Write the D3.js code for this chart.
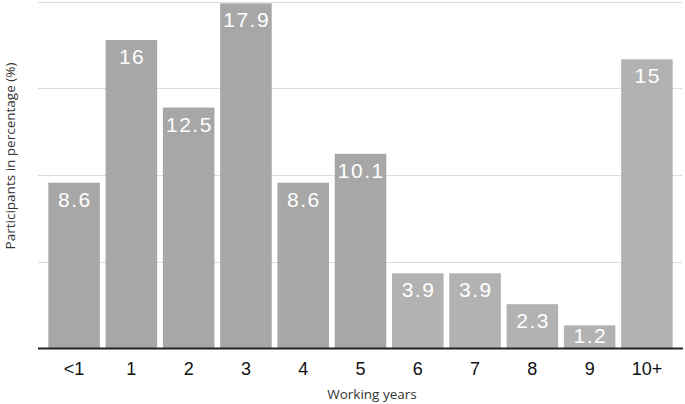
<!DOCTYPE html>
<html>
<head>
<meta charset="utf-8">
<script src="https://cdn.jsdelivr.net/npm/d3@7"></script>
<style>
  html, body { margin: 0; padding: 0; background: #fff; }
  svg { display: block; }
</style>
</head>
<body>
<svg id="chart" width="685" height="404"></svg>
<script>
const categories = ["<1", "1", "2", "3", "4", "5", "6", "7", "8", "9", "10+"];
const values = [8.6, 16, 12.5, 17.9, 8.6, 10.1, 3.9, 3.9, 2.3, 1.2, 15];
const gridValues = [4.5, 9, 13.5, 18];
const xTitle = "Working years";
const yTitle = "Participants in percentage (%)";

(function () {
const svg = d3.select("#chart");
const mLeft = 38, mRight = 683, mTop = 1.5, mBottom = 348.5;

const x = d3.scaleBand().domain(categories).range([mLeft, mRight])
  .paddingInner(0.1).paddingOuter(0.18);
const y = d3.scaleLinear().domain([0, 18]).range([mBottom, mTop]);

const darkFill = "#a7a7a7", lightFill = "#b2b2b2";
const fillFor = i => (i < 6 ? darkFill : lightFill);

// gridlines
svg.append("g").selectAll("line").data(gridValues).join("line")
  .attr("x1", mLeft).attr("x2", mRight - 1)
  .attr("y1", d => Math.round(y(d)) + 0.5).attr("y2", d => Math.round(y(d)) + 0.5)
  .attr("stroke", "#dcdcdc").attr("stroke-width", 1);

// bars
const data = categories.map((c, i) => ({ c, v: values[i], i }));
svg.append("g").selectAll("rect").data(data).join("rect")
  .attr("x", d => x(d.c)).attr("width", x.bandwidth())
  .attr("y", d => y(d.v)).attr("height", d => y(0) - y(d.v))
  .attr("fill", d => fillFor(d.i));

// value labels
svg.append("g").selectAll("text").data(data).join("text")
  .attr("x", d => x(d.c) + x.bandwidth() / 2 + 0.75)
  .attr("y", d => Math.min(y(d.v) + 24, y(0) - 6))
  .attr("text-anchor", "middle")
  .attr("font-family", "'Liberation Sans', Arial, Helvetica, sans-serif")
  .attr("font-size", 21)
  .attr("letter-spacing", 1.5)
  .attr("fill", "#fff")
  .text(d => d.v);

// x axis
const xAxis = svg.append("g").attr("transform", `translate(0,${mBottom})`)
  .call(d3.axisBottom(x).tickSize(0).tickPadding(14));
xAxis.select(".domain").attr("d", `M${mLeft},0H${mRight}`).attr("stroke", "#222").attr("stroke-width", 2);
xAxis.selectAll("text")
  .attr("font-family", "'Liberation Sans', Arial, Helvetica, sans-serif")
  .attr("font-size", 18).attr("fill", "#111");

// axis titles
svg.append("text").attr("x", 372).attr("y", 399)
  .attr("text-anchor", "middle")
  .attr("font-family", "'Open Sans', 'Noto Sans', sans-serif")
  .attr("font-size", 13.5).attr("fill", "#333")
  .text(xTitle);

svg.append("text")
  .attr("transform", `translate(15,156) rotate(-90)`)
  .attr("text-anchor", "middle")
  .attr("font-family", "'Open Sans', 'Noto Sans', sans-serif")
  .attr("font-size", 13.5).attr("fill", "#333")
  .text(yTitle);
})();
</script>
</body>
</html>
